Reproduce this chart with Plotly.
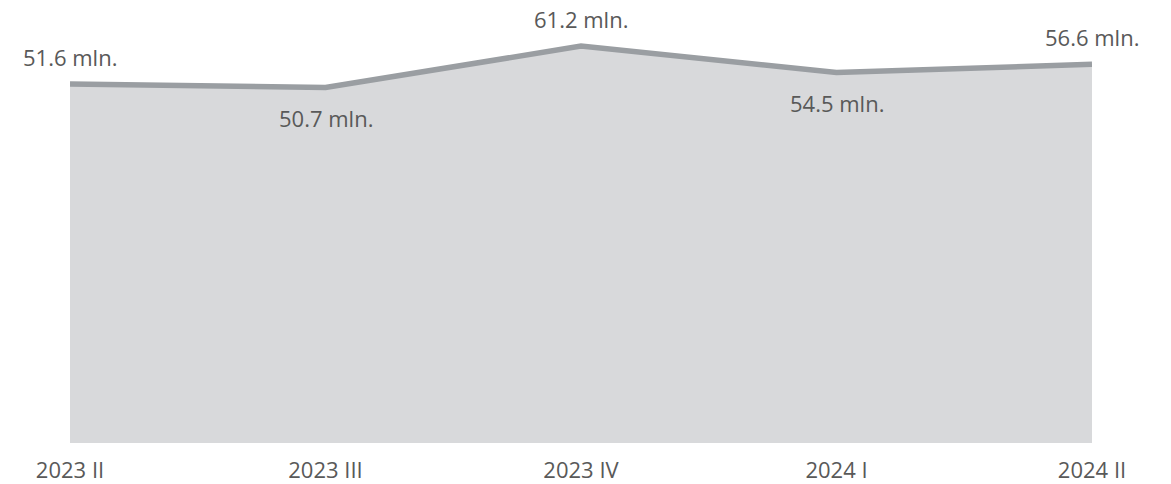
import plotly.graph_objects as go

categories = ["2023 II", "2023 III", "2023 IV", "2024 I", "2024 II"]
values = [51.6, 50.7, 61.2, 54.5, 56.6]
label_pos = ["above", "below", "above", "below", "above"]

y_min, y_max = -39.5, 72.9
font_family = "Open Sans, Noto Sans, sans-serif"
text_color = "#595959"

fig = go.Figure()
fig.add_trace(go.Scatter(x=categories, y=[y_min] * len(categories), mode="lines",
                         line=dict(width=0), hoverinfo="skip", showlegend=False))
fig.add_trace(go.Scatter(x=categories, y=values, mode="lines", fill="tonexty",
                         fillcolor="#d8d9db",
                         line=dict(color="#9a9ea2", width=5.5),
                         showlegend=False))

for c, v, p in zip(categories, values, label_pos):
    fig.add_annotation(x=c, y=v, text=f"{v:.1f} mln.", showarrow=False,
                       yshift=27 if p == "above" else -30,
                       font=dict(size=22, color=text_color, family=font_family))

fig.update_layout(
    width=1171, height=484,
    margin=dict(l=70, r=79, t=0, b=38),
    plot_bgcolor="white", paper_bgcolor="white",
    xaxis=dict(range=[0, 4], showgrid=False, zeroline=False, showline=False,
               ticks="outside", ticklen=8, tickcolor="rgba(0,0,0,0)",
               tickfont=dict(size=22, color=text_color, family=font_family)),
    yaxis=dict(range=[y_min, y_max], visible=False, showgrid=False, zeroline=False),
)

fig.write_html("out.html", config={"displayModeBar": False},
               post_script="document.body.style.margin='0px';document.body.style.overflow='hidden';")
